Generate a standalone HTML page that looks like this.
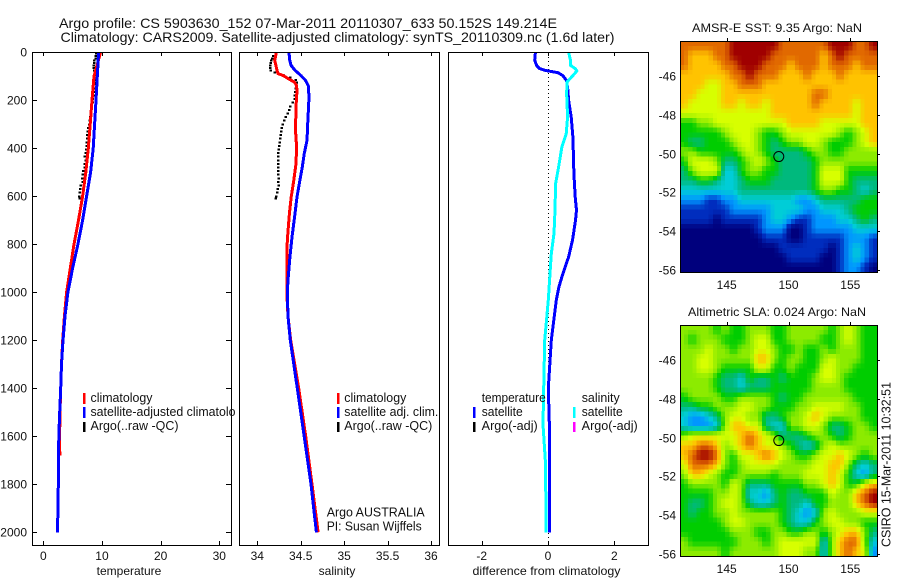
<!DOCTYPE html>
<html>
<head>
<meta charset="utf-8">
<title>Argo profile</title>
<style>
html,body{margin:0;padding:0;background:#fff;}
svg{display:block;font-family:"Liberation Sans",sans-serif;font-size:12px;fill:#000;}
text{fill:#111;}
.ttl{font-size:14px;}
.lg{font-size:12.5px;}
</style>
</head>
<body>
<svg id="figure" width="900" height="580" viewBox="0 0 900 580" xmlns="http://www.w3.org/2000/svg">
<rect x="0" y="0" width="900" height="580" fill="#fff"/>

<g id="temp-panel">
  <g id="temp-marks"></g>
  <rect x="83" y="393" width="2.5" height="11" fill="#f00"/>
  <rect x="83" y="407" width="2.5" height="11" fill="#00f"/>
  <rect x="83" y="422" width="2.5" height="10" fill="#000"/>
  <text class="lg" x="90.5" y="402" textLength="62" lengthAdjust="spacingAndGlyphs">climatology</text>
  <text class="lg" x="90.5" y="416" textLength="158" lengthAdjust="spacingAndGlyphs">satellite-adjusted climatology</text>
  <text class="lg" x="90.5" y="430" textLength="88" lengthAdjust="spacingAndGlyphs">Argo(..raw -QC)</text>
  <text x="129" y="575" text-anchor="middle">temperature</text>
</g>

<g id="sal-panel">
  <rect x="236" y="46" width="208" height="502" fill="#fff"/>
  <g id="sal-marks"></g>
  <rect x="337" y="393" width="2.5" height="11" fill="#f00"/>
  <rect x="337" y="407" width="2.5" height="11" fill="#00f"/>
  <rect x="337" y="422" width="2.5" height="10" fill="#000"/>
  <text class="lg" x="344.3" y="402" textLength="62" lengthAdjust="spacingAndGlyphs">climatology</text>
  <text class="lg" x="344.3" y="416" textLength="94" lengthAdjust="spacingAndGlyphs">satellite adj. clim.</text>
  <text class="lg" x="344.3" y="430" textLength="88" lengthAdjust="spacingAndGlyphs">Argo(..raw -QC)</text>
  <text class="lg" x="326.7" y="516.5" textLength="98" lengthAdjust="spacingAndGlyphs">Argo AUSTRALIA</text>
  <text class="lg" x="326.7" y="530.5" textLength="95" lengthAdjust="spacingAndGlyphs">PI: Susan Wijffels</text>
  <text x="337" y="575" text-anchor="middle">salinity</text>
</g>

<g id="diff-panel">
  <g id="diff-marks"></g>
  <text class="lg" x="481.7" y="402" textLength="64" lengthAdjust="spacingAndGlyphs">temperature</text>
  <rect x="473" y="407" width="2.5" height="11" fill="#00f"/>
  <text class="lg" x="481.7" y="416" textLength="41" lengthAdjust="spacingAndGlyphs">satellite</text>
  <rect x="473" y="422" width="2.5" height="10" fill="#000"/>
  <text class="lg" x="481.7" y="430" textLength="56" lengthAdjust="spacingAndGlyphs">Argo(-adj)</text>
  <text class="lg" x="581.7" y="402" textLength="38" lengthAdjust="spacingAndGlyphs">salinity</text>
  <rect x="573" y="407" width="2.5" height="11" fill="#0ff"/>
  <text class="lg" x="581.7" y="416" textLength="41" lengthAdjust="spacingAndGlyphs">satellite</text>
  <rect x="573" y="422" width="2.5" height="10" fill="#f0f"/>
  <text class="lg" x="581.7" y="430" textLength="56" lengthAdjust="spacingAndGlyphs">Argo(-adj)</text>
  <text x="546.5" y="575" text-anchor="middle" textLength="148" lengthAdjust="spacingAndGlyphs">difference from climatology</text>
</g>

<text class="ttl" x="59" y="28" textLength="498" lengthAdjust="spacingAndGlyphs">Argo profile: CS 5903630_152 07-Mar-2011 20110307_633 50.152S 149.214E</text>
<text class="ttl" x="60.5" y="42" textLength="554" lengthAdjust="spacingAndGlyphs">Climatology: CARS2009. Satellite-adjusted climatology: synTS_20110309.nc (1.6d later)</text>

<g id="sst-map"></g>
<text x="777" y="32" text-anchor="middle" textLength="170" lengthAdjust="spacingAndGlyphs">AMSR-E SST: 9.35 Argo: NaN</text>
<g id="sla-map"></g>
<text x="777" y="316" text-anchor="middle" textLength="178" lengthAdjust="spacingAndGlyphs">Altimetric SLA: 0.024 Argo: NaN</text>
<text transform="translate(890.5,547) rotate(-90)" font-size="13" textLength="165" lengthAdjust="spacingAndGlyphs">CSIRO 15-Mar-2011 10:32:51</text>
</svg>

<script>
const depthTicks = [0, 200, 400, 600, 800, 1000, 1200, 1400, 1600, 1800, 2000];
const tempTicks = [0, 10, 20, 30];
const salTicks = [34, 34.5, 35, 35.5, 36];
const salTickText = ["34", "34.5", "35", "35.5", "36"];
const diffTicks = [-2, 0, 2];
const lonTicks = [145, 150, 155];
const latTicks = [-46, -48, -50, -52, -54, -56];

const tempClimDepth = [0, 100, 200, 300, 400, 500, 600, 700, 800, 900, 1000, 1100, 1200, 1300, 1400, 1500, 1600, 1680];
const tempClim = [9.77, 8.64, 8.3, 8.0, 7.67, 7.25, 6.7, 6.0, 5.23, 4.6, 3.98, 3.6, 3.3, 3.1, 2.96, 2.85, 2.78, 2.82];
const tempSatDepth = [0, 100, 200, 300, 400, 500, 600, 700, 800, 900, 1000, 1100, 1200, 1300, 1400, 1500, 1600, 1800, 1900, 2000];
const tempSat = [9.43, 9.2, 8.98, 8.75, 8.5, 8.07, 7.38, 6.7, 5.9, 5.0, 4.2, 3.7, 3.35, 3.1, 2.96, 2.8, 2.65, 2.55, 2.5, 2.4];

const salClimDepth = [0, 33, 75, 89, 97, 110, 124, 137, 158, 228, 325, 394, 464, 533, 603, 672, 783, 900, 1000, 1100, 1200, 1400, 1600, 1800, 2000];
const salClim = [34.22, 34.2, 34.227, 34.24, 34.3, 34.357, 34.426, 34.45, 34.457, 34.446, 34.44, 34.453, 34.446, 34.42, 34.39, 34.37, 34.345, 34.34, 34.34, 34.353, 34.385, 34.477, 34.557, 34.63, 34.7];
const salSatDepth = [0, 33, 54, 75, 97, 118, 139, 187, 298, 367, 423, 478, 533, 603, 672, 770, 850, 950, 1000, 1100, 1200, 1300, 1400, 1600, 1800, 2000];
const salSat = [34.365, 34.373, 34.388, 34.434, 34.503, 34.557, 34.587, 34.595, 34.58, 34.572, 34.54, 34.518, 34.49, 34.457, 34.434, 34.4, 34.377, 34.354, 34.345, 34.353, 34.38, 34.42, 34.46, 34.54, 34.618, 34.68];

const argoDepth = [5, 15, 25, 35, 45, 55, 65, 75, 85, 95, 105, 115, 125, 135, 150, 165, 180, 195, 210, 225, 240, 255, 270, 285, 300, 315, 330, 345, 360, 375, 390, 405, 420, 435, 450, 465, 480, 495, 510, 525, 540, 555, 570, 585, 600, 610];
const argoTemp = [9.0, 8.9, 8.9, 8.7, 8.7, 8.6, 8.6, 8.7, 8.8, 8.8, 8.8, 8.7, 8.7, 8.8, 8.6, 8.6, 8.6, 8.4, 8.4, 8.3, 8.2, 8.1, 8.0, 7.9, 7.8, 7.7, 7.6, 7.5, 7.5, 7.4, 7.4, 7.3, 7.2, 7.1, 7.2, 7.1, 7.1, 6.8, 6.7, 6.6, 6.7, 6.4, 6.3, 6.2, 6.1, 6.2];
const argoSal = [34.21, 34.185, 34.17, 34.16, 34.155, 34.15, 34.15, 34.155, 34.2, 34.3, 34.38, 34.44, 34.455, 34.45, 34.44, 34.435, 34.43, 34.43, 34.41, 34.38, 34.365, 34.35, 34.33, 34.31, 34.295, 34.28, 34.275, 34.27, 34.265, 34.26, 34.25, 34.245, 34.24, 34.24, 34.24, 34.24, 34.24, 34.24, 34.24, 34.245, 34.24, 34.245, 34.235, 34.23, 34.22, 34.215];

const diffTempDepth = [0, 33, 56, 68, 75, 80, 85, 97, 118, 158, 200, 269, 353, 506, 603, 658, 700, 783, 853, 922, 978, 1033, 1200, 1400, 1600, 2000];
const diffTemp = [-0.38, -0.4, -0.34, -0.25, -0.1, 0.1, 0.3, 0.45, 0.56, 0.6, 0.62, 0.7, 0.75, 0.78, 0.82, 0.86, 0.83, 0.74, 0.62, 0.45, 0.33, 0.25, 0.1, 0.01, 0.05, 0.04];
const diffSalDepth = [0, 33, 54, 68, 78, 97, 123, 170, 269, 340, 394, 478, 547, 658, 755, 839, 922, 1033, 1200, 1400, 1550, 1700, 1900, 2000];
const diffSal = [0.62, 0.68, 0.68, 0.82, 0.87, 0.75, 0.58, 0.56, 0.59, 0.55, 0.42, 0.32, 0.23, 0.21, 0.18, 0.1, 0.06, 0.01, -0.1, -0.13, -0.15, -0.08, -0.06, -0.06];

/* SST in degrees C, north to south, west to east */
const sstGrid = [
[13,13,13,13,13,13,14,14,14,14,14,14,13,13,13,13,13,13,14,14,14,13,13,14],
[13,12,12,12,13,13,14,14,14,14,14,13,13,13,13,13,13,12,13,14,13,13,13,13],
[13,12,12,12,12,13,13,14,14,14,13,13,13,12,13,13,13,12,13,13,13,12,13,13],
[12,12,12,12,12,12,13,13,14,13,13,13,12,12,12,13,12,12,12,13,12,12,12,12],
[12,12,12,11,11,12,12,13,13,13,12,12,12,12,12,12,12,12,12,12,12,12,12,12],
[12,12,11,11,11,12,12,12,12,12,12,12,12,12,12,12,13,13,12,12,12,12,12,12],
[12,11,11,11,11,12,12,11,12,12,11,12,12,12,12,12,13,12,12,12,12,11,12,12],
[11,11,11,11,11,11,11,11,11,11,11,12,12,12,12,12,12,12,12,12,12,11,12,12],
[9,9,10,10,11,11,11,11,11,11,11,11,11,12,12,12,12,11,11,11,11,11,12,12],
[9,9,9,9,9,10,11,11,11,10,9,9,10,11,11,11,11,11,11,10,9,10,11,12],
[9,8,8,9,9,9,10,11,11,10,9,8,9,10,10,11,11,10,9,9,9,10,11,12],
[10,10,9,9,9,9,9,10,11,10,9,8,8,8,8,9,10,10,9,9,10,10,10,10],
[9,11,11,11,10,8,8,9,10,11,10,9,8,8,8,8,9,10,10,10,10,10,10,10],
[8,10,11,11,11,7,7,9,10,10,9,9,8,8,8,8,9,11,11,11,9,9,9,9],
[8,8,9,9,8,7,7,8,9,9,9,8,8,8,8,8,9,11,11,11,9,8,8,8],
[7,7,7,7,7,7,7,8,8,8,8,8,8,8,8,8,9,10,10,9,9,8,7,8],
[6,6,6,5,5,6,6,7,7,7,7,7,7,7,6,6,7,8,8,8,8,8,9,9],
[5,5,5,5,5,5,6,6,6,6,6,7,7,7,7,6,6,7,7,7,8,9,9,9],
[5,5,5,5,4,5,5,5,5,5,6,7,7,6,5,5,6,6,6,7,7,8,9,8],
[4,4,4,4,4,4,4,4,4,5,6,6,6,4,4,5,6,6,6,6,6,7,7,7],
[4,4,4,4,4,4,4,4,4,4,5,5,5,4,4,5,5,5,5,5,6,6,6,5],
[4,4,4,4,4,4,4,4,4,4,4,4,5,5,5,5,5,5,4,5,6,7,6,5],
[4,4,4,4,4,4,4,4,4,4,4,4,4,5,5,5,5,4,4,5,6,7,6,5],
[4,4,4,4,4,4,4,4,4,4,4,4,4,4,4,4,4,4,4,5,6,6,5,4]
];

/* Sea level anomaly in decimetres */
const slaGrid = [
[-1,-1,-1,-1,-2,-1,-2,-2,-1,-1,-1,-2,-2,-1,-1,-1,-1,-1,-2,-1,0,-1,-2,-2],
[-1,-2,-1,-1,-1,-2,-2,-2,-1,0,0,-2,-2,-1,-1,-1,-1,-2,-2,-1,0,-1,-2,-2],
[-1,-1,-1,0,-1,-1,-2,-1,-1,0,0,-1,-2,-2,-1,-2,-2,-1,-2,-1,-1,-1,-2,-2],
[-1,-1,0,0,-1,-1,-1,-1,-1,1,1,-1,-2,-1,-1,-2,-2,-1,0,-1,-1,-1,-2,-2],
[-1,-1,0,0,-1,-2,-2,-2,-2,0,0,-2,-2,-1,-2,-2,-2,0,0,-1,-1,-2,-2,-2],
[-1,-1,-1,-1,-2,-3,-3,-4,-2,-3,-3,-2,-3,-2,-2,-2,-1,0,0,-1,-2,-2,-2,-2],
[-1,-1,-1,-1,-2,-3,-3,-4,-3,-3,-3,-2,-2,-2,-2,-2,-1,-1,-1,-1,-2,-2,-2,-2],
[-2,-1,-1,-1,-1,-2,-2,-1,-1,-1,-1,-2,-3,-2,-2,-1,-1,-1,-1,-1,-1,-2,-2,-2],
[-3,-3,-2,-2,-1,-1,-1,0,0,-1,-1,-2,-2,-2,-1,-1,0,0,0,0,-1,-1,-2,-2],
[-4,-5,-5,-4,-3,-1,0,0,-1,-1,-3,-3,-2,-1,-1,0,1,0,-1,-1,-1,-1,-2,-2],
[-4,-5,-5,-5,-4,-1,1,1,0,0,-3,-4,-4,-1,-1,0,0,-1,-3,-3,-2,-1,-1,-2],
[-1,0,0,0,0,0,0,1,2,1,0,-1,-3,-3,-3,-2,-1,-1,-2,-3,-2,-1,-1,-1],
[1,1,2,2,1,-1,0,1,2,1,0,0,-1,-2,-3,-4,-3,-1,0,-1,-1,-1,-1,-1],
[1,2,3,3,2,-1,-2,0,0,1,2,1,0,-1,-2,-2,-1,0,0,1,0,-1,-2,-1],
[0,2,2,2,1,-1,-2,-1,0,0,0,0,-1,-1,-1,-1,0,0,1,1,-1,-3,-4,-3],
[-1,1,1,0,-1,-2,-2,-1,-1,-1,-1,-2,-1,-1,-1,0,0,0,1,0,-2,-4,-5,-3],
[-2,-1,-1,-1,-1,-2,0,-1,-3,-3,-3,-2,-2,-2,-2,-1,-1,0,1,0,-2,-2,0,1],
[-2,-2,-2,-2,-1,-1,0,-1,-4,-4,-5,-3,-2,-3,-3,-2,-2,-2,0,-1,-1,1,2,3],
[-2,-3,-3,-2,-1,0,0,-1,-3,-4,-4,-3,-2,-3,-3,-4,-2,-2,-1,-1,-1,1,2,3],
[-2,-3,-2,-2,-1,-1,0,-1,-1,-1,-1,-1,-2,-3,-4,-5,-4,-1,0,-1,-1,-1,0,0],
[-2,-2,-2,-2,-2,-1,0,0,-1,-1,-1,-1,-2,-3,-4,-4,-2,-1,0,0,-1,-1,-2,-2],
[-2,-2,-2,-2,-2,-2,-1,-1,-1,-2,-2,-1,-1,-2,-2,-1,-1,-2,-1,0,1,1,-1,-3],
[-1,-2,-2,-2,-2,-2,-2,-1,-1,-1,-2,-1,0,0,0,0,0,-4,-1,1,2,2,-1,-4],
[-1,-1,-1,-1,-1,-2,-1,-1,-1,-1,-1,-1,0,0,0,-1,-1,-4,-1,1,2,1,0,-5]
];

const floatLon = 149.214;
const floatLat = -50.152;

const svgNS = "http://www.w3.org/2000/svg";

function make(parent, tag, attrs, text) {
  const el = document.createElementNS(svgNS, tag);
  for (const k in attrs) el.setAttribute(k, attrs[k]);
  if (text !== undefined) el.textContent = text;
  parent.appendChild(el);
  return el;
}
function linScale(v0, p0, v1, p1) {
  return v => p0 + (v - v0) * (p1 - p0) / (v1 - v0);
}

const yDepth = linScale(0, 52.3, 2000, 532.3);
const xTemp = linScale(0, 43.3, 30, 219.3);
const xSal = linScale(34, 257.3, 36, 431);
const xDiff = linScale(-2, 481.7, 2, 614.3);

function drawLine(parent, xs, ys, xf, color, width, name) {
  const pts = xs.map((v, i) => xf(v).toFixed(1) + "," + yDepth(ys[i]).toFixed(1)).join(" ");
  const el = make(parent, "polyline", {
    points: pts, fill: "none", stroke: color, "stroke-width": width,
    "shape-rendering": "crispEdges", "stroke-linejoin": "miter"
  });
  
  
}
function drawPoints(parent, xs, ys, xf, name) {
  xs.forEach((v, i) => {
    const el = make(parent, "rect", {
      x: (xf(v) - 1.25).toFixed(1), y: (yDepth(ys[i]) - 1).toFixed(1), width: 2.5, height: 2, fill: "#000",
      "shape-rendering": "crispEdges"
    });
    
    
  });
}
function drawBox(parent, left, right, name) {
  const el = make(parent, "rect", {
    x: left + 0.5, y: 52.5, width: right - left, height: 493, fill: "none", stroke: "#000", "stroke-width": 1,
    "shape-rendering": "crispEdges"
  });
  
  
}
function drawXTicks(parent, ticks, labels, xf, prefix) {
  ticks.forEach((t, i) => {
    const x = Math.round(xf(t)) + 0.5;
    const a = make(parent, "line", { x1: x, x2: x, y1: 52, y2: 56, stroke: "#000", "shape-rendering": "crispEdges" });
    
    
    const b = make(parent, "line", { x1: x, x2: x, y1: 541, y2: 545, stroke: "#000", "shape-rendering": "crispEdges" });
    
    
    const tx = make(parent, "text", { x: xf(t), y: 560, "text-anchor": "middle" }, labels[i]);
    
    
  });
}

/* temperature panel */
const tempG = document.getElementById("temp-marks");
drawPoints(tempG, argoTemp, argoDepth, xTemp, "argo-temperature-point");
drawLine(tempG, tempClim, tempClimDepth, xTemp, "#f00", 3, "climatology-temperature-line");
drawLine(tempG, tempSat, tempSatDepth, xTemp, "#00f", 3, "satellite-temperature-line");
drawBox(tempG, 32, 231, "temperature-axes-box");
drawXTicks(tempG, tempTicks, tempTicks.map(String), xTemp, "temperature-x");
depthTicks.forEach(d => {
  const y = Math.round(yDepth(d)) + 0.5;
  const l = make(tempG, "line", { x1: 32, x2: 37, y1: y, y2: y, stroke: "#000", "shape-rendering": "crispEdges" });
  
  
  const r = make(tempG, "line", { x1: 226, x2: 231, y1: y, y2: y, stroke: "#000", "shape-rendering": "crispEdges" });
  
  
  const t = make(tempG, "text", { x: 27, y: y + 4, "text-anchor": "end" }, String(d));
  
  
});

/* salinity panel */
const salG = document.getElementById("sal-marks");
drawPoints(salG, argoSal, argoDepth, xSal, "argo-salinity-point");
drawLine(salG, salClim, salClimDepth, xSal, "#f00", 3, "climatology-salinity-line");
drawLine(salG, salSat, salSatDepth, xSal, "#00f", 3, "satellite-salinity-line");
drawBox(salG, 239, 439, "salinity-axes-box");
drawXTicks(salG, salTicks, salTickText, xSal, "salinity-x");

/* difference panel */
const diffG = document.getElementById("diff-marks");
const zeroX = Math.round(xDiff(0)) + 0.5;
const zeroLine = make(diffG, "line", {
  x1: zeroX, x2: zeroX, y1: 53, y2: 545, stroke: "#000", "stroke-width": 1, "stroke-dasharray": "1 3",
  "shape-rendering": "crispEdges"
});


drawLine(diffG, diffTemp, diffTempDepth, xDiff, "#00f", 3, "temperature-difference-line");
drawLine(diffG, diffSal, diffSalDepth, xDiff, "#0ff", 3, "salinity-difference-line");
drawBox(diffG, 448, 648, "difference-axes-box");
drawXTicks(diffG, diffTicks, diffTicks.map(String), xDiff, "difference-x");

/* maps */
const colorStops = [
  [0, 0, 125], [0, 45, 190], [0, 150, 255], [0, 205, 215], [0, 185, 125], [0, 205, 0],
  [140, 235, 0], [215, 255, 0], [255, 195, 0], [225, 105, 0], [160, 0, 0]
];
function levelColor(level) {
  const l = Math.max(0, Math.min(10, level));
  const i = Math.min(9, Math.floor(l));
  const f = l - i;
  const c = colorStops[i].map((v, k) => Math.round(v + (colorStops[i + 1][k] - v) * f));
  return "rgb(" + c.join(",") + ")";
}
function sampleGrid(grid, u, v) {
  const rows = grid.length, cols = grid[0].length;
  const cu = Math.max(0, Math.min(cols - 1, u));
  const cv = Math.max(0, Math.min(rows - 1, v));
  const i0 = Math.floor(cu), j0 = Math.floor(cv);
  const i1 = Math.min(cols - 1, i0 + 1), j1 = Math.min(rows - 1, j0 + 1);
  const fu = cu - i0, fv = cv - j0;
  const top = grid[j0][i0] * (1 - fu) + grid[j0][i1] * fu;
  const bot = grid[j1][i0] * (1 - fu) + grid[j1][i1] * fu;
  return top * (1 - fv) + bot * fv;
}
function drawMap(gId, grid, levelOf, top, bottom, yLatFn, prefix) {
  const g = document.getElementById(gId);
  const xLon = linScale(145, 726.7, 155, 850.3);
  const left = 680, right = 877;
  const rows = grid.length, cols = grid[0].length;
  const sub = 2;
  const cw = (right - left) / cols / sub, ch = (bottom - top) / rows / sub;
  for (let j = 0; j < rows * sub; j++) {
    for (let i = 0; i < cols * sub; i++) {
      const val = sampleGrid(grid, (i + 0.5) / sub - 0.5, (j + 0.5) / sub - 0.5);
      const c = make(g, "rect", {
        x: (left + i * cw).toFixed(2), y: (top + j * ch).toFixed(2),
        width: cw.toFixed(2), height: ch.toFixed(2),
        fill: levelColor(levelOf(val)), "shape-rendering": "crispEdges"
      });
      
      
    }
  }
  const box = make(g, "rect", {
    x: left + 0.5, y: top + 0.5, width: right - left, height: bottom - top,
    fill: "none", stroke: "#000", "shape-rendering": "crispEdges"
  });
  
  
  lonTicks.forEach(t => {
    const x = Math.round(xLon(t)) + 0.5;
    const tk = make(g, "line", { x1: x, x2: x, y1: top - 3, y2: top, stroke: "#000", "shape-rendering": "crispEdges" });
    
    
    const lb = make(g, "text", { x: xLon(t), y: bottom + 17, "text-anchor": "middle" }, String(t));
    
    
  });
  latTicks.forEach(t => {
    const y = Math.round(yLatFn(t)) + 0.5;
    const tk = make(g, "line", { x1: right, x2: right + 3, y1: y, y2: y, stroke: "#000", "shape-rendering": "crispEdges" });
    
    
    const lb = make(g, "text", { x: 676, y: y + 4, "text-anchor": "end" }, String(t));
    
    
  });
  const marker = make(g, "circle", {
    cx: xLon(floatLon), cy: yLatFn(floatLat), r: 5, fill: "none", stroke: "#000", "stroke-width": 1
  });
  
  
}
drawMap("sst-map", sstGrid, v => v - 4, 41, 272, linScale(-46, 76, -56, 270), "sst");
drawMap("sla-map", slaGrid, v => v + 7, 325, 556, linScale(-46, 360, -56, 554), "sla");
</script>
</body>
</html>
